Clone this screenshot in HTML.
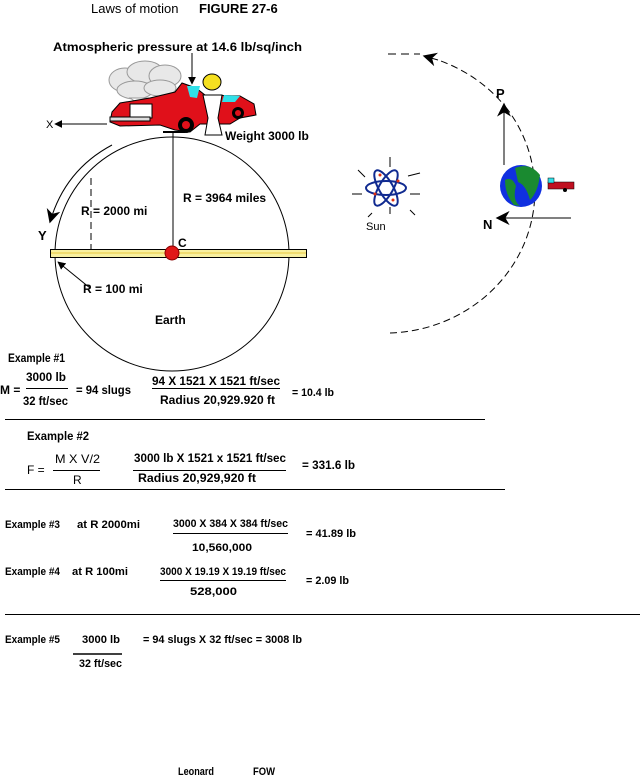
<!DOCTYPE html>
<html><head><meta charset="utf-8"><style>
html,body{margin:0;padding:0;background:#fff;}
svg{display:block;}
text{font-family:"Liberation Sans",Arial,sans-serif;fill:#000;}
.b{font-weight:bold;font-size:12px;}
.n{font-size:12px;}
</style></head><body>
<svg width="640" height="779" viewBox="0 0 640 779" xmlns="http://www.w3.org/2000/svg">
<defs>
<marker id="ah" viewBox="0 0 10 10" refX="9" refY="5" markerWidth="8" markerHeight="8" orient="auto-start-reverse" markerUnits="userSpaceOnUse"><path d="M0,0 L10,5 L0,10 z" fill="#000"/></marker>
<marker id="ahb" viewBox="0 0 10 10" refX="9" refY="5" markerWidth="14" markerHeight="14" orient="auto-start-reverse" markerUnits="userSpaceOnUse"><path d="M0,0 L10,5 L0,10 L3,5 z" fill="#000"/></marker>
</defs>
<text x="91" y="13" font-size="13">Laws of motion</text>
<text x="199" y="13" font-size="13" font-weight="bold">FIGURE 27-6</text>
<text x="53" y="51" class="b" textLength="249" lengthAdjust="spacingAndGlyphs">Atmospheric pressure at 14.6 lb/sq/inch</text>
<line x1="192" y1="53" x2="192" y2="84" stroke="#000" marker-end="url(#ah)"/>

<circle cx="172" cy="254" r="117" fill="none" stroke="#000" stroke-width="1"/>
<g fill="#e8e8e8" stroke="#999">
<ellipse cx="125" cy="80" rx="16" ry="12"/><ellipse cx="145" cy="72" rx="18" ry="11"/><ellipse cx="165" cy="76" rx="16" ry="11"/><ellipse cx="135" cy="90" rx="18" ry="9"/><ellipse cx="160" cy="88" rx="16" ry="8"/>
</g>
<path d="M130,98 L145,108 L160,98 Z" fill="#fff" stroke="#999"/>
<path d="M112,112 L120,103 L150,98 L175,92 L182,83 L196,88 L205,95 L240,96 L254,104 L256,115 L240,118 L230,124 L200,124 L190,132 L175,130 L160,125 L120,126 L110,122 Z" fill="#e0101a" stroke="#000"/>
<rect x="130" y="104" width="22" height="14" fill="#fff" stroke="#000"/>
<path d="M187,86 L200,86 L197,98 L190,97 Z" fill="#30e0e8"/>
<path d="M224,95 L240,96 L235,102 L222,102 Z" fill="#30e0e8"/>
<circle cx="186" cy="125" r="8" fill="#000"/><circle cx="186" cy="125" r="4" fill="#e0101a"/>
<circle cx="238" cy="113" r="6" fill="#000"/><circle cx="238" cy="113" r="3" fill="#e0101a"/>
<rect x="110" y="117" width="40" height="4" fill="#ddd" stroke="#000"/>
<ellipse cx="212" cy="82" rx="9" ry="8" fill="#f5e020" stroke="#000"/>
<path d="M203,95 L222,95 L218,118 L222,135 L205,135 L208,118 Z" fill="#fff" stroke="#000"/>
<line x1="163" y1="132" x2="185" y2="132" stroke="#000" stroke-width="2"/>
<line x1="107" y1="124" x2="55" y2="124" stroke="#000" marker-end="url(#ah)"/>
<text x="46" y="128" font-size="11">X</text>
<text x="225" y="140" class="b">Weight 3000 lb</text>
<line x1="173" y1="133" x2="173" y2="246" stroke="#000"/>
<text x="183" y="202" class="b">R = 3964 miles</text>
<line x1="91" y1="178" x2="91" y2="249" stroke="#000" stroke-dasharray="7,4"/>
<text x="81" y="215" class="b">R = 2000 mi</text>
<path d="M112,145 Q65,170 50,222" fill="none" stroke="#000" marker-end="url(#ahb)"/>
<text x="38" y="240" font-size="13" font-weight="bold">Y</text>
<rect x="50.5" y="249.5" width="256" height="8" fill="#f8f0a0" stroke="#000"/>
<line x1="51" y1="253" x2="306" y2="253" stroke="#e8c840"/>
<circle cx="172" cy="253" r="7" fill="#e01818" stroke="#800"/>
<text x="178" y="247" class="b">C</text>
<line x1="90" y1="288" x2="58" y2="262" stroke="#000" marker-end="url(#ah)"/>
<text x="83" y="293" class="b">R = 100 mi</text>
<text x="155" y="324" class="b">Earth</text>

<path d="M390,333 A150,142 0 0 0 508,110 M508,110 A150,142 0 0 0 438,60" fill="none" stroke="#000" stroke-dasharray="7,4"/>
<line x1="388" y1="54" x2="420" y2="54" stroke="#000" stroke-dasharray="8,5"/>
<line x1="438" y1="60" x2="424" y2="56" stroke="#000" marker-end="url(#ahb)"/>
<line x1="504" y1="165" x2="504" y2="104" stroke="#000" marker-end="url(#ahb)"/>
<text x="496" y="98" font-size="13" font-weight="bold">P</text>
<circle cx="521" cy="186" r="21" fill="#1030e0"/>
<path d="M515,168 Q530,162 540,175 Q538,192 530,200 Q526,185 518,182 Z" fill="#1a8a30"/>
<path d="M505,180 Q512,176 516,186 Q512,200 520,206 L514,205 Q505,195 505,180Z" fill="#1a8a30"/>
<rect x="548" y="182" width="26" height="7" fill="#c01020" stroke="#000" stroke-width="0.5"/>
<rect x="548" y="178" width="6" height="5" fill="#30e0e8" stroke="#000" stroke-width="0.5"/>
<circle cx="565" cy="190" r="2" fill="#000"/>
<line x1="571" y1="218" x2="497" y2="218" stroke="#000" marker-end="url(#ahb)"/>
<text x="483" y="229" font-size="13" font-weight="bold">N</text>
<g stroke="#000">
<line x1="390" y1="157" x2="390" y2="167"/><line x1="390" y1="207" x2="390" y2="214"/>
<line x1="352" y1="194" x2="362" y2="194"/><line x1="410" y1="194" x2="420" y2="194"/>
<line x1="358" y1="170" x2="365" y2="177"/><line x1="408" y1="176" x2="420" y2="173"/>
<line x1="410" y1="210" x2="415" y2="215"/><line x1="372" y1="213" x2="368" y2="217"/>
</g>
<g fill="none" stroke="#102a90" stroke-width="2">
<ellipse cx="386" cy="188" rx="20" ry="7"/>
<ellipse cx="386" cy="188" rx="20" ry="7" transform="rotate(60 386 188)"/>
<ellipse cx="386" cy="188" rx="20" ry="7" transform="rotate(-60 386 188)"/>
</g>
<g fill="#e03010"><circle cx="380" cy="175" r="1.5"/><circle cx="398" cy="181" r="1.5"/><circle cx="393" cy="200" r="1.5"/><circle cx="375" cy="194" r="1.5"/></g>
<text x="366" y="230" font-size="11">Sun</text>

<text x="8" y="362" class="b" textLength="57" lengthAdjust="spacingAndGlyphs">Example #1</text>
<text x="0" y="394" class="b">M =</text>
<text x="26" y="381" class="b" textLength="40" lengthAdjust="spacingAndGlyphs">3000 lb</text>
<line x1="26" y1="388.5" x2="68" y2="388.5" stroke="#000"/>
<text x="23" y="405" class="b" textLength="45" lengthAdjust="spacingAndGlyphs">32 ft/sec</text>
<text x="76" y="394" class="b" textLength="55" lengthAdjust="spacingAndGlyphs">=  94 slugs</text>
<text x="152" y="385" class="b" textLength="128" lengthAdjust="spacingAndGlyphs">94 X 1521 X 1521 ft/sec</text>
<line x1="152" y1="388.5" x2="280" y2="388.5" stroke="#000"/>
<text x="160" y="404" class="b" textLength="115" lengthAdjust="spacingAndGlyphs">Radius  20,929.920 ft</text>
<text x="292" y="396" font-size="11" font-weight="bold" textLength="42" lengthAdjust="spacingAndGlyphs">= 10.4 lb</text>
<line x1="5" y1="419.5" x2="485" y2="419.5" stroke="#000"/>

<text x="27" y="440" class="b" textLength="62" lengthAdjust="spacingAndGlyphs">Example #2</text>
<text x="27" y="474" class="n">F =</text>
<text x="55" y="463" class="n" textLength="45" lengthAdjust="spacingAndGlyphs">M X V/2</text>
<line x1="53" y1="470.5" x2="100" y2="470.5" stroke="#000"/>
<text x="73" y="484" class="n">R</text>
<text x="134" y="462" class="b" textLength="152" lengthAdjust="spacingAndGlyphs">3000 lb X 1521 x 1521 ft/sec</text>
<line x1="133" y1="470.5" x2="286" y2="470.5" stroke="#000"/>
<text x="138" y="482" class="b" textLength="118" lengthAdjust="spacingAndGlyphs">Radius   20,929,920 ft</text>
<text x="302" y="469" class="b" textLength="53" lengthAdjust="spacingAndGlyphs">= 331.6 lb</text>
<line x1="5" y1="489.5" x2="505" y2="489.5" stroke="#000"/>

<text x="5" y="528" font-size="11" font-weight="bold" textLength="55" lengthAdjust="spacingAndGlyphs">Example #3</text>
<text x="77" y="528" font-size="11" font-weight="bold" textLength="63" lengthAdjust="spacingAndGlyphs">at  R 2000mi</text>
<text x="173" y="527" font-size="11" font-weight="bold" textLength="115" lengthAdjust="spacingAndGlyphs">3000 X 384 X 384  ft/sec</text>
<line x1="173" y1="533.5" x2="288" y2="533.5" stroke="#000"/>
<text x="192" y="551" font-size="11" font-weight="bold" textLength="60" lengthAdjust="spacingAndGlyphs">10,560,000</text>
<text x="306" y="537" font-size="11" font-weight="bold" textLength="50" lengthAdjust="spacingAndGlyphs">=  41.89 lb</text>

<text x="5" y="575" font-size="11" font-weight="bold" textLength="55" lengthAdjust="spacingAndGlyphs">Example #4</text>
<text x="72" y="575" font-size="11" font-weight="bold" textLength="56" lengthAdjust="spacingAndGlyphs">at  R 100mi</text>
<text x="160" y="575" font-size="11" font-weight="bold" textLength="126" lengthAdjust="spacingAndGlyphs">3000 X 19.19 X 19.19 ft/sec</text>
<line x1="160" y1="580.5" x2="286" y2="580.5" stroke="#000"/>
<text x="190" y="595" font-size="11" font-weight="bold" textLength="47" lengthAdjust="spacingAndGlyphs">528,000</text>
<text x="306" y="584" font-size="11" font-weight="bold" textLength="43" lengthAdjust="spacingAndGlyphs">=  2.09 lb</text>
<line x1="5" y1="614.5" x2="640" y2="614.5" stroke="#000"/>

<text x="5" y="643" font-size="11" font-weight="bold" textLength="55" lengthAdjust="spacingAndGlyphs">Example #5</text>
<text x="82" y="643" font-size="11" font-weight="bold" textLength="38" lengthAdjust="spacingAndGlyphs">3000 lb</text>
<line x1="73" y1="654" x2="122" y2="654" stroke="#000" stroke-width="1.5"/>
<text x="79" y="667" font-size="11" font-weight="bold" textLength="43" lengthAdjust="spacingAndGlyphs">32 ft/sec</text>
<text x="143" y="643" font-size="11" font-weight="bold" textLength="159" lengthAdjust="spacingAndGlyphs">= 94 slugs X 32 ft/sec   = 3008 lb</text>

<text x="178" y="775" font-size="11" font-weight="bold" textLength="36" lengthAdjust="spacingAndGlyphs">Leonard</text>
<text x="253" y="775" font-size="11" font-weight="bold" textLength="22" lengthAdjust="spacingAndGlyphs">FOW</text>
</svg>
</body></html>
